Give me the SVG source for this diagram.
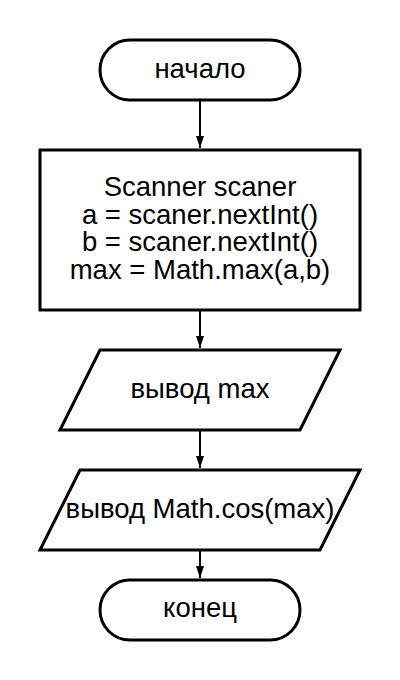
<svg xmlns="http://www.w3.org/2000/svg" width="400" height="680" viewBox="0 0 400 680">
<defs>
<style>
.shape{fill:#fff;stroke:#000;stroke-width:3}
.t{font-family:"Liberation Sans",Arial,sans-serif;font-size:27.5px;fill:#000;text-anchor:middle}
.edge{stroke:#000;stroke-width:2;fill:none}
</style>
<marker id="arr" viewBox="0 0 12 8" refX="12" refY="4" markerWidth="12" markerHeight="8" markerUnits="userSpaceOnUse" orient="auto">
<path d="M0,0 L12,4 L0,8 Z" fill="#000"/>
</marker>
</defs>
<rect width="400" height="680" fill="#fff"/>
<g id="connectors">
<line class="edge" x1="200" y1="100" x2="200" y2="148" marker-end="url(#arr)"/>
<line class="edge" x1="200" y1="310" x2="200" y2="348" marker-end="url(#arr)"/>
<line class="edge" x1="200" y1="430" x2="200" y2="468" marker-end="url(#arr)"/>
<line class="edge" x1="200" y1="550" x2="200" y2="578" marker-end="url(#arr)"/>
</g>
<g id="start">
<rect class="shape" x="100" y="40" width="200" height="60" rx="30" ry="30"/>
<text class="t" x="200" y="78">начало</text>
</g>
<g id="process">
<rect class="shape" x="40" y="150" width="320" height="160"/>
<text class="t" x="200" y="196">Scanner scaner</text>
<text class="t" x="200" y="224">a = scaner.nextInt()</text>
<text class="t" x="200" y="251">b = scaner.nextInt()</text>
<text class="t" x="200" y="279">max = Math.max(a,b)</text>
</g>
<g id="output1">
<polygon class="shape" points="100,350 340,350 300,430 60,430"/>
<text class="t" x="200" y="398">вывод max</text>
</g>
<g id="output2">
<polygon class="shape" points="80,470 360,470 320,550 40,550"/>
<text class="t" x="200" y="518">вывод Math.cos(max)</text>
</g>
<g id="end">
<rect class="shape" x="100" y="580" width="200" height="60" rx="30" ry="30"/>
<text class="t" x="200" y="617">конец</text>
</g>
</svg>
